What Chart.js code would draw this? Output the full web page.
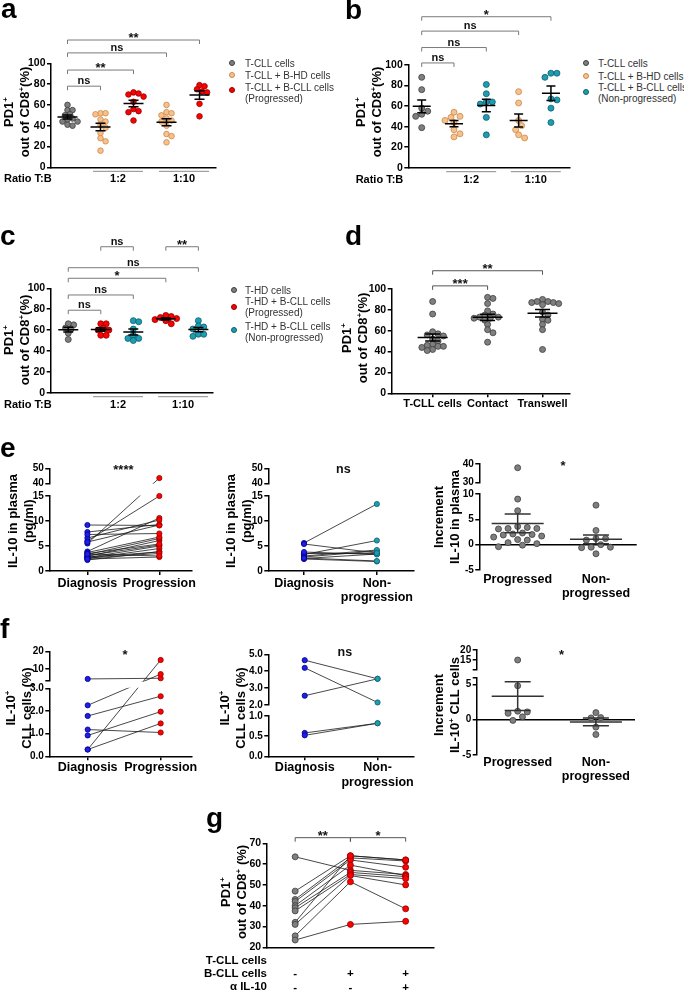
<!DOCTYPE html>
<html>
<head>
<meta charset="utf-8">
<title>PD1 / IL-10 figure</title>
<script src="https://cdn.jsdelivr.net/npm/chart.js@4.4.1/dist/chart.umd.min.js"></script>
<style>
  body { margin: 0; width: 684px; height: 991px; position: relative; overflow: hidden; background: #fff;
         font-family: 'Liberation Sans', Arial, sans-serif; color: #000; }
  canvas { position: absolute; }
  .letter { position: absolute; z-index: 2; font-weight: bold; font-size: 28px; line-height: 28px; }
  .ytitle { position: absolute; z-index: 2; font-weight: bold; font-size: 13px; line-height: 16px; text-align: center;
            white-space: nowrap; transform: translate(-50%, -50%) rotate(-90deg); }
  .ytitle sup { font-size: 8px; vertical-align: 5px; line-height: 0; }
  .lg { position: absolute; z-index: 2; font-size: 10px; line-height: 11px; color: #333; white-space: nowrap; }
  .dot { position: absolute; z-index: 2; width: 6px; height: 6px; border-radius: 50%; box-sizing: border-box; border: 1px solid; }
  .row { position: absolute; z-index: 2; font-weight: bold; font-size: 11.5px; line-height: 13px; text-align: right; white-space: nowrap; }
</style>
</head>
<body>
<script>
const FONT = "'Liberation Sans', Arial, sans-serif";

const C = {
  gray:   ['#7f7f7f', '#3d3d3d'],
  orange: ['#f8c08a', '#c88a4c'],
  red:    ['#fe0000', '#8e0000'],
  teal:   ['#1c9db1', '#0c5f6b'],
  blue:   ['#1e1ee4', '#000090']
};

// a - PD1+ of CD8+ (T-CLL + B-HD / progressed B-CLL)
const aTcll   = [60, 55, 55, 51, 50, 47, 46, 44, 44, 41, 40];
const aHd12   = [52, 52, 51, 46, 44, 41, 38, 33, 28, 25, 16];
const aCll12  = [72, 71, 70, 68, 63, 56, 54, 53, 45];
const aHd110  = [60, 53, 52, 50, 47, 45, 44, 40, 32, 30, 24];
const aCll110 = [79, 78, 75, 73, 72, 61, 49];
const aSig    = ['ns', '**', 'ns', '**'];
const aLegend = [['T-CLL cells'], ['T-CLL + B-HD cells'], ['T-CLL + B-CLL cells', '(Progressed)']];

// b - non-progressed B-CLL
const bTcll   = [88, 76, 58, 55, 52, 50, 39];
const bHd12   = [54, 50, 49, 46, 44, 37, 33, 30];
const bCll12  = [81, 72, 64, 64, 62, 49, 32];
const bHd110  = [74, 63, 46, 41, 37, 32, 29];
const bCll110 = [92, 92, 88, 66, 67, 58, 44];
const bSig    = ['ns', 'ns', 'ns', '*'];
const bLegend = [['T-CLL cells'], ['T-CLL + B-HD cells'], ['T-CLL + B-CLL cells', '(Non-progressed)']];

// c - T-HD cells
const cThd     = [65, 66, 62, 61, 57, 51];
const cProg12  = [66, 66, 62, 60, 60, 55, 55];
const cNon12   = [69, 68, 61, 55, 52, 52, 50];
const cProg110 = [74, 73, 72, 71, 70, 69, 66];
const cNon110  = [69, 64, 63, 61, 56, 56, 54];
const cSig     = ['ns', 'ns', '*', 'ns', 'ns', '**'];
const cLegend  = [['T-HD cells'], ['T-HD + B-CLL cells', '(Progressed)'], ['T-HD + B-CLL cells', '(Non-progressed)']];

const ratioTitle  = 'Ratio T:B';
const ratioLabels = ['1:2', '1:10'];
const pdTicks = [0, 20, 40, 60, 80, 100];

// d - contact vs transwell
const dCats      = ['T-CLL cells', 'Contact', 'Transwell'];
const dTcll      = [88, 76, 59, 57, 56, 55, 52, 50, 47, 46, 45, 45, 44, 42, 41];
const dContact   = [92, 91, 86, 79, 76, 75, 73, 73, 72, 72, 70, 66, 61, 58, 49];
const dTranswell = [90, 88, 88, 87, 87, 86, 85, 78, 75, 71, 70, 66, 61, 42];
const dSig       = ['***', '**'];

// e - IL-10 in plasma (pg/ml)
const eCatsP   = ['Diagnosis', 'Progression'];
const eCatsN   = ['Diagnosis', ['Non-', 'progression']];
const eDiagP   = [5.5, 6.0, 3.9, 6.6, 5.8, 2.9, 3.3, 3.7, 2.7, 3.1, 2.5, 3.5, 2.2, 7.8, 2.8, 2.6, 2.4, 7.3, 9.2, 3.4];
const eProg    = [43.5, 15.0, 10.6, 10.2, 9.2, 6.1, 6.5, 6.8, 5.0, 5.2, 4.5, 5.4, 3.9, 9.3, 3.8, 3.5, 2.8, 7.5, 9.1, 3.0];
const eDiagN   = [5.6, 3.3, 2.8, 3.0, 2.5, 3.5, 3.8, 2.4, 2.6, 5.4];
const eNonProg = [13.4, 6.1, 4.0, 4.2, 3.4, 3.5, 3.3, 1.9, 2.0, 3.6];
const eIncCats = ['Progressed', ['Non-', 'progressed']];
const eIncP    = [38, 9, 6.7, 3.6, 3.4, 3.2, 3.2, 3.1, 2.3, 2.1, 2.0, 1.9, 1.7, 1.5, 1.0, 0.9, 0.4, 0.2, -0.1, -0.4];
const eIncN    = [7.8, 2.8, 1.2, 1.2, 0.9, 0.0, -0.5, -0.5, -0.6, -1.8];
const eSig     = ['****', 'ns', '*'];

// f - IL-10+ CLL cells (%)
const fDiagP   = [4.2, 2.25, 0.3, 1.78, 1.18, 0.92, 0.3];
const fProg    = [4.6, 7.0, 15.2, 2.65, 1.05, 1.97, 1.45];
const fDiagN   = [4.65, 4.2, 2.55, 0.58, 0.52];
const fNonProg = [3.55, 2.15, 3.55, 0.82, 0.82];
const fIncP    = [15, 4.8, 1.2, 1.1, 0.9, 0.4, -0.1];
const fIncN    = [1.0, 0.25, 0.3, -1.05, -2.1];
const fSig     = ['*', 'ns', '*'];

// g - anti IL-10
const gTcll  = [63.5, 47, 43, 42, 40, 39, 37.5, 32, 31, 25.5, 23.5];
const gBcll  = [57, 64, 63, 62, 59.5, 56, 55, 64, 54.5, 51.5, 31];
const gAnti  = [55, 62, 61.5, 58.5, 54.5, 54, 53, 62, 50, 38.5, 32.5];
const gRows  = ['T-CLL cells', 'B-CLL cells', 'α IL-10'];
const gMarks = [['', '-', '-'], ['', '+', '-'], ['', '+', '+']];
const gSig   = ['**', '*'];

Chart.defaults.font.family = FONT;
Chart.defaults.font.weight = 'bold';
Chart.defaults.color = '#000';
Chart.defaults.animation = false;
Chart.defaults.responsive = false;
Chart.defaults.events = [];
Chart.defaults.plugins.legend.display = false;
Chart.defaults.plugins.tooltip.enabled = false;

// simple beeswarm: sep = minimum centre distance in px, step = sideways step in px
function swarm(py, sep, step) {
  const order = py.map((v, i) => i).sort((a, b) => py[a] - py[b]);
  const off = new Array(py.length).fill(0);
  const placed = [];
  for (const i of order) {
    for (let k = 0; k < 80; k++) {
      const dx = Math.ceil(k / 2) * (k % 2 ? 1 : -1) * step;
      if (placed.every(p => (p[0] - dx) ** 2 + (p[1] - py[i]) ** 2 >= sep * sep)) {
        off[i] = dx; placed.push([dx, py[i]]); break;
      }
    }
  }
  return off;
}

function axisOf(ch, o, v) {
  const real = o.segs.filter(s => !s.gap);
  let s = real.find(s => v >= s.min && v <= s.max);
  if (!s) s = v > real[0].max ? real[0] : real[real.length - 1];
  return ch.scales[s.id];
}
const ypx = (ch, o, v) => axisOf(ch, o, v).getPixelForValue(v);
const xpx = (ch, p) => ch.scales.x.getPixelForValue(p);

function mark(ctx, t, x, y, fs) {
  const star = /^\*+$/.test(t);
  const size = star ? fs + 2 : fs;
  ctx.font = `bold ${size}px ${FONT}`;
  ctx.fillStyle = '#111';
  ctx.textAlign = 'center';
  ctx.textBaseline = 'alphabetic';
  ctx.fillText(t, x, y + (star ? 0.55 : 0.27) * size);
}

function deco(o) {
  return {
    id: 'deco',
    beforeDatasetsDraw(ch) {
      const ctx = ch.ctx, ca = ch.chartArea;
      if (o.zero) {
        const y = ypx(ch, o, 0);
        ctx.save(); ctx.strokeStyle = '#000'; ctx.lineWidth = 1.5;
        ctx.beginPath(); ctx.moveTo(ca.left, y); ctx.lineTo(ca.right, y); ctx.stroke();
        ctx.restore();
      }
      if (o.pairs) {
        ctx.save();
        ctx.beginPath();
        o.segs.forEach(s => {
          if (s.gap) return;
          const sc = ch.scales[s.id];
          ctx.rect(ca.left, sc.top - 0.5, ca.right - ca.left, sc.bottom - sc.top + 1);
        });
        ctx.clip();
        ctx.strokeStyle = '#1a1a1a'; ctx.lineWidth = 0.8;
        o.pairs.forEach(([a, b]) => {
          const ga = o.groups[a], gb = o.groups[b];
          ga.vals.forEach((v, i) => {
            ctx.beginPath();
            ctx.moveTo(xpx(ch, ga.pos), ypx(ch, o, v));
            ctx.lineTo(xpx(ch, gb.pos), ypx(ch, o, gb.vals[i]));
            ctx.stroke();
          });
        });
        ctx.restore();
      }
    },
    afterDatasetsDraw(ch) {
      if (!o.mean) return;
      const ctx = ch.ctx;
      const [mw, sw] = o.mean;
      ctx.save(); ctx.strokeStyle = o.mcolor || '#000'; ctx.lineWidth = 1.5;
      o.groups.forEach(g => {
        const n = g.vals.length;
        const m = g.vals.reduce((a, b) => a + b, 0) / n;
        const sem = Math.sqrt(g.vals.reduce((a, v) => a + (v - m) ** 2, 0) / (n - 1)) / Math.sqrt(n);
        const x = xpx(ch, g.pos), y = ypx(ch, o, m);
        const y1 = ypx(ch, o, m + sem), y2 = ypx(ch, o, m - sem);
        ctx.beginPath();
        ctx.moveTo(x - mw, y); ctx.lineTo(x + mw, y);
        ctx.moveTo(x, y1); ctx.lineTo(x, y2);
        ctx.moveTo(x - sw, y1); ctx.lineTo(x + sw, y1);
        ctx.moveTo(x - sw, y2); ctx.lineTo(x + sw, y2);
        ctx.stroke();
      });
      ctx.restore();
    },
    afterDraw(ch) {
      const ctx = ch.ctx, ca = ch.chartArea;
      ctx.save();
      (o.brackets || []).forEach(([a, b, v, t]) => {
        const x1 = xpx(ch, o.groups[a].pos), x2 = xpx(ch, o.groups[b].pos), y = ypx(ch, o, v);
        ctx.strokeStyle = o.bcolor || '#777'; ctx.lineWidth = 1;
        ctx.beginPath();
        ctx.moveTo(x1, y + 4); ctx.lineTo(x1, y); ctx.lineTo(x2, y); ctx.lineTo(x2, y + 4);
        ctx.stroke();
        mark(ctx, t, (x1 + x2) / 2, y - 5, 11);
      });
      (o.notes || []).forEach(([p, v, t, fs]) => mark(ctx, t, xpx(ch, p), ypx(ch, o, v), fs));
      if (o.under !== undefined) {
        const y0 = ca.bottom;
        ctx.font = `bold 11px ${FONT}`; ctx.fillStyle = '#000'; ctx.textBaseline = 'middle';
        ctx.textAlign = 'right';
        ctx.fillText(ratioTitle, ca.left + o.under, y0 + 12);
        ctx.strokeStyle = '#8a8a8a'; ctx.lineWidth = 1;
        [[1, 2], [3, 4]].forEach(([a, b], k) => {
          const xm = (xpx(ch, o.groups[a].pos) + xpx(ch, o.groups[b].pos)) / 2 + 1;
          ctx.beginPath(); ctx.moveTo(xm - 25, y0 + 4); ctx.lineTo(xm + 25, y0 + 4); ctx.stroke();
          ctx.textAlign = 'center';
          ctx.fillText(ratioLabels[k], xm, y0 + 12);
        });
      }
      ctx.restore();
    }
  };
}

function yScale(s, W, o, stacked) {
  if (s.gap) {
    return { type: 'linear', position: 'left', stack: 'st', stackWeight: s.gap, min: 0, max: 1,
      afterFit: sc => { sc.width = W; },
      border: { display: false }, grid: { display: false, drawTicks: false }, ticks: { display: false } };
  }
  const cfg = {
    type: 'linear', position: 'left', min: s.min, max: s.max,
    afterFit: sc => { sc.width = W; },
    afterBuildTicks: sc => { sc.ticks = s.ticks.map(v => ({ value: v })); },
    border: { display: true, color: '#000', width: 1.5 },
    grid: { display: true, drawOnChartArea: false, drawTicks: true, tickLength: 4, color: '#000', lineWidth: 1.5 },
    ticks: { padding: 1.5, color: '#000', autoSkip: false, font: { size: o.yfont || 10.5, weight: 'bold' },
      callback: v => (s.hide && s.hide.includes(v)) ? '' : (s.dp ? v.toFixed(s.dp) : String(v)) }
  };
  if (stacked) { cfg.stack = 'st'; cfg.stackWeight = s.h; }
  return cfg;
}

function panel(o) {
  const [bl, bt, bw, bh] = o.box;
  const [ax, top, right, bottom] = o.plot;
  const cv = document.createElement('canvas');
  cv.width = bw; cv.height = bh;
  cv.style.left = bl + 'px'; cv.style.top = bt + 'px';
  document.body.appendChild(cv);
  const W = ax - bl;
  const H = bt + bh - bottom;
  const stacked = o.segs.length > 1;
  o.segs.forEach((s, i) => { s.id = stacked ? 'y' + i : 'y'; });

  const scales = {
    x: {
      type: 'linear', min: o.xmin, max: o.xmax,
      afterFit: sc => { sc.height = H; },
      afterBuildTicks: sc => { sc.ticks = o.groups.map(g => ({ value: g.pos })); },
      border: { display: o.xline !== false, color: '#000', width: 1.5 },
      grid: { display: !!o.xmarks, drawOnChartArea: false, drawTicks: !!o.xmarks, tickLength: 4, color: '#000', lineWidth: 1.5 },
      ticks: { display: !!o.xlabels, padding: o.xpad || 0, autoSkip: false, maxRotation: 0, color: '#000',
        font: { size: o.xfont || 12.5, weight: 'bold', lineHeight: 1.15 },
        callback: (v, i) => o.xlabels ? o.xlabels[i] : '' }
    }
  };
  // bottom segment declared first so it stacks lowest
  o.segs.slice().reverse().forEach(s => { scales[s.id] = yScale(s, W, o, stacked); });

  const datasets = [];
  o.groups.forEach(g => {
    o.segs.forEach(s => {
      if (s.gap) return;
      const pts = g.vals.filter(v => v >= s.min && v <= s.max);
      if (!pts.length) return;
      datasets.push({
        yAxisID: s.id, data: pts.map(v => ({ x: g.pos, y: v })),
        pointRadius: o.r, pointHoverRadius: o.r, pointBorderWidth: 0.8,
        backgroundColor: C[g.col][0], borderColor: C[g.col][1], showLine: false, clip: false
      });
    });
  });

  const chart = new Chart(cv, {
    type: 'scatter',
    data: { datasets },
    options: {
      layout: { padding: { left: 0, top: top - bt, right: bl + bw - right, bottom: 0 } },
      scales
    },
    plugins: [deco(o)]
  });

  if (o.jitter) {
    const xs = chart.scales.x;
    const ppu = xs.getPixelForValue(1) - xs.getPixelForValue(0);
    const [sepF, stepF] = o.jitter;
    chart.data.datasets.forEach(ds => {
      const ys = chart.scales[ds.yAxisID];
      const off = swarm(ds.data.map(p => ys.getPixelForValue(p.y)), o.r * sepF, o.r * stepF);
      ds.data.forEach((p, k) => { p.x += off[k] / ppu; });
    });
    chart.update('none');
  }
  return chart;
}

function addLetter(t, left, top) {
  const d = document.createElement('div');
  d.className = 'letter'; d.textContent = t;
  d.style.left = left + 'px'; d.style.top = top + 'px';
  document.body.appendChild(d);
}
function addYTitle(html, cx, cy) {
  const d = document.createElement('div');
  d.className = 'ytitle'; d.innerHTML = html;
  d.style.left = cx + 'px'; d.style.top = cy + 'px';
  document.body.appendChild(d);
}
function addLegend(items, cols, dx, tx, rows) {
  items.forEach((lines, i) => {
    const [cy, ty] = rows[i];
    const dot = document.createElement('div');
    dot.className = 'dot';
    dot.style.left = (dx - 3) + 'px'; dot.style.top = (cy - 3) + 'px';
    dot.style.background = C[cols[i]][0]; dot.style.borderColor = C[cols[i]][1];
    document.body.appendChild(dot);
    const t = document.createElement('div');
    t.className = 'lg'; t.innerHTML = lines.join('<br>');
    t.style.left = tx + 'px'; t.style.top = (ty - 5.5) + 'px';
    document.body.appendChild(t);
  });
}

// ---------- a ----------
panel({
  box: [0, 0, 232, 192], plot: [51, 63.3, 216, 167.3], xmin: 0.5, xmax: 5.5,
  segs: [{ min: 0, max: 100, ticks: pdTicks }],
  groups: [{ vals: aTcll, pos: 1, col: 'gray' }, { vals: aHd12, pos: 2, col: 'orange' }, { vals: aCll12, pos: 3, col: 'red' },
           { vals: aHd110, pos: 4, col: 'orange' }, { vals: aCll110, pos: 5, col: 'red' }],
  r: 2.8, jitter: [1.6, 0.9], mean: [10, 5], bcolor: '#7a7a7a', under: 0.7,
  brackets: [[0, 1, 78, aSig[0]], [0, 2, 93.5, aSig[1]], [0, 3, 110, aSig[2]], [0, 4, 122.4, aSig[3]]]
});
addLegend(aLegend, ['gray', 'orange', 'red'], 232, 245, [[63, 63], [75.3, 75.3], [90, 87.3]]);

// ---------- b ----------
panel({
  box: [342, 0, 240, 192], plot: [408.3, 65, 570, 167.7], xmin: 0.585, xmax: 5.59,
  segs: [{ min: 0, max: 100, ticks: pdTicks }],
  groups: [{ vals: bTcll, pos: 1, col: 'gray' }, { vals: bHd12, pos: 2, col: 'orange' }, { vals: bCll12, pos: 3, col: 'teal' },
           { vals: bHd110, pos: 4, col: 'orange' }, { vals: bCll110, pos: 5, col: 'teal' }],
  r: 3, jitter: [1.8, 1], mean: [9, 4.5], bcolor: '#7a7a7a', under: -5,
  brackets: [[0, 1, 102, bSig[0]], [0, 2, 117, bSig[1]], [0, 3, 133, bSig[2]], [0, 4, 147, bSig[3]]]
});
addLegend(bLegend, ['gray', 'orange', 'teal'], 586, 598, [[62.7, 63.3], [76, 76], [91.7, 87.3]]);

// ---------- c ----------
panel({
  box: [0, 225, 232, 192], plot: [50.7, 288.3, 213, 392.7], xmin: 0.46, xmax: 5.45,
  segs: [{ min: 0, max: 100, ticks: pdTicks }],
  groups: [{ vals: cThd, pos: 1, col: 'gray' }, { vals: cProg12, pos: 2, col: 'red' }, { vals: cNon12, pos: 3, col: 'teal' },
           { vals: cProg110, pos: 4, col: 'red' }, { vals: cNon110, pos: 5, col: 'teal' }],
  r: 3, jitter: [1.6, 0.9], mean: [10, 5], bcolor: '#7a7a7a', under: 1,
  brackets: [[0, 1, 79, cSig[0]], [0, 2, 93.6, cSig[1]], [0, 3, 109.6, cSig[2]], [0, 4, 119.7, cSig[3]],
             [1, 2, 139.8, cSig[4]], [3, 4, 139.8, cSig[5]]]
});
addLegend(cLegend, ['gray', 'red', 'teal'], 234.3, 245, [[290, 290], [306.7, 301.7], [330, 326]]);

// ---------- d ----------
panel({
  box: [342, 225, 240, 195], plot: [391.7, 289, 570, 393.3], xmin: 0.255, xmax: 3.5,
  segs: [{ min: 0, max: 100, ticks: pdTicks }],
  groups: [{ vals: dTcll, pos: 1, col: 'gray' }, { vals: dContact, pos: 2, col: 'gray' }, { vals: dTranswell, pos: 3, col: 'gray' }],
  r: 3, jitter: [1.6, 0.9], mean: [15, 7.5], bcolor: '#555',
  xlabels: dCats, xmarks: true, xfont: 11, xpad: 0,
  brackets: [[0, 1, 103, dSig[0]], [0, 2, 117.5, dSig[1]]]
});

// ---------- e ----------
const eSegs = () => [{ min: 40, max: 50, ticks: [40, 50], h: 15 }, { gap: 12.7 }, { min: 0, max: 15, ticks: [0, 5, 10, 15], h: 75 }];
panel({
  box: [0, 445, 225, 160], plot: [49.3, 468.3, 191.7, 571], xmin: 0.47, xmax: 2.45,
  segs: eSegs(), yfont: 10,
  groups: [{ vals: eDiagP, pos: 1, col: 'blue' }, { vals: eProg, pos: 2, col: 'red' }],
  r: 2.6, pairs: [[0, 1]], xlabels: eCatsP, xmarks: true, xpad: 1,
  notes: [[1.5, 50.9, eSig[0], 11]]
});
panel({
  box: [225, 445, 215, 165], plot: [268.3, 468.3, 413.3, 571], xmin: 0.51, xmax: 2.5,
  segs: eSegs(), yfont: 10,
  groups: [{ vals: eDiagN, pos: 1, col: 'blue' }, { vals: eNonProg, pos: 2, col: 'teal' }],
  r: 2.6, pairs: [[0, 1]], xlabels: eCatsN, xmarks: true, xpad: 1,
  notes: [[1.54, 48.9, eSig[1], 12.5]]
});
panel({
  box: [440, 445, 244, 165], plot: [479.3, 464, 636.7, 570], xmin: 0.51, xmax: 2.52,
  segs: [{ min: 30, max: 40, ticks: [30, 40], h: 18.7 }, { gap: 11.3 }, { min: -5, max: 10, ticks: [-5, 0, 5, 10], h: 76 }],
  yfont: 10,
  groups: [{ vals: eIncP, pos: 1, col: 'gray' }, { vals: eIncN, pos: 2, col: 'gray' }],
  r: 3, jitter: [2.2, 1.6], mean: [26, 13], mcolor: '#333', zero: true,
  xlabels: eIncCats, xline: false, xpad: 2,
  notes: [[1.58, 40.5, eSig[2], 11]]
});

// ---------- f ----------
panel({
  box: [0, 635, 225, 155], plot: [49.3, 651.7, 191.7, 756.3], xmin: 0.474, xmax: 2.425,
  segs: [{ min: 3, max: 20, ticks: [3, 10, 20], hide: [3], h: 29.3 }, { gap: 7.3 },
         { min: 0, max: 3, ticks: [0, 1, 2, 3], dp: 1, h: 68 }],
  yfont: 10,
  groups: [{ vals: fDiagP, pos: 1, col: 'blue' }, { vals: fProg, pos: 2, col: 'red' }],
  r: 2.6, pairs: [[0, 1]], xlabels: eCatsP, xmarks: true, xpad: 0.5,
  notes: [[1.51, 19.8, fSig[0], 11]]
});
panel({
  box: [225, 635, 215, 160], plot: [268.3, 654.3, 414, 756.3], xmin: 0.5, xmax: 2.5,
  segs: [{ min: 2, max: 5, ticks: [2, 3, 4, 5], dp: 1, h: 50.7 }, { gap: 11 },
         { min: 0, max: 1, ticks: [0, 0.5, 1], dp: 1, h: 40.3 }],
  yfont: 10,
  groups: [{ vals: fDiagN, pos: 1, col: 'blue' }, { vals: fNonProg, pos: 2, col: 'teal' }],
  r: 2.6, pairs: [[0, 1]], xlabels: eCatsN, xmarks: true, xpad: 0.5,
  notes: [[1.55, 5.08, fSig[1], 12.5]]
});
panel({
  box: [440, 635, 244, 160], plot: [476.7, 650, 635, 755], xmin: 0.476, xmax: 2.5,
  segs: [{ min: 10, max: 20, ticks: [10, 15, 20], hide: [10], h: 20 }, { gap: 7.3 },
         { min: -5, max: 6, ticks: [-5, 0, 5, 6], hide: [6], h: 77.7 }],
  yfont: 10,
  groups: [{ vals: fIncP, pos: 1, col: 'gray' }, { vals: fIncN, pos: 2, col: 'gray' }],
  r: 3, jitter: [2.2, 1.6], mean: [26, 13], mcolor: '#333', zero: true,
  xlabels: eIncCats, xline: false, xpad: 0,
  notes: [[1.56, 19.2, fSig[2], 11]]
});

// ---------- g ----------
panel({
  box: [200, 820, 260, 171], plot: [266.7, 843.3, 433.3, 947.3], xmin: 0.485, xmax: 3.5,
  segs: [{ min: 20, max: 70, ticks: [20, 30, 40, 50, 60, 70] }],
  groups: [{ vals: gTcll, pos: 1, col: 'gray' }, { vals: gBcll, pos: 2, col: 'red' }, { vals: gAnti, pos: 3, col: 'red' }],
  r: 3, pairs: [[0, 1], [1, 2]], bcolor: '#555',
  xlabels: gMarks, xfont: 11.5, xpad: 7,
  brackets: [[0, 1, 72.7, gSig[0]], [1, 2, 72.7, gSig[1]]]
});
gRows.forEach((t, i) => {
  const d = document.createElement('div');
  d.className = 'row'; d.textContent = t;
  d.style.left = '140px'; d.style.width = '127px';
  d.style.top = (954.2 + i * 12.65) + 'px';
  document.body.appendChild(d);
});

// ---------- titles and letters ----------
const pdTitle = 'PD1<sup>+</sup><br>out of CD8<sup>+</sup>(%)';
addYTitle(pdTitle, 17, 112);
addYTitle(pdTitle, 368.5, 112);
addYTitle(pdTitle, 17, 340);
addYTitle(pdTitle, 355, 338);
addYTitle('IL-10 in plasma<br>(pg/ml)', 20.5, 521);
addYTitle('IL-10 in plasma<br>(pg/ml)', 239, 521);
addYTitle('Increment<br>IL-10 in plasma', 447, 517);
addYTitle('IL-10<sup>+</sup><br>CLL cells (%)', 18.5, 708);
addYTitle('IL-10<sup>+</sup><br>CLL cells (%)', 233, 708);
addYTitle('Increment<br>IL-10<sup>+</sup> CLL cells', 446.5, 705);
addYTitle('PD1<sup>+</sup><br>out of CD8<sup>+</sup> (%)', 234, 892);

addLetter('a', 1, -5);
addLetter('b', 345, -4);
addLetter('c', 0, 222);
addLetter('d', 345, 222);
addLetter('e', 0, 434);
addLetter('f', 0, 615);
addLetter('g', 206, 804);
</script>
</body>
</html>
